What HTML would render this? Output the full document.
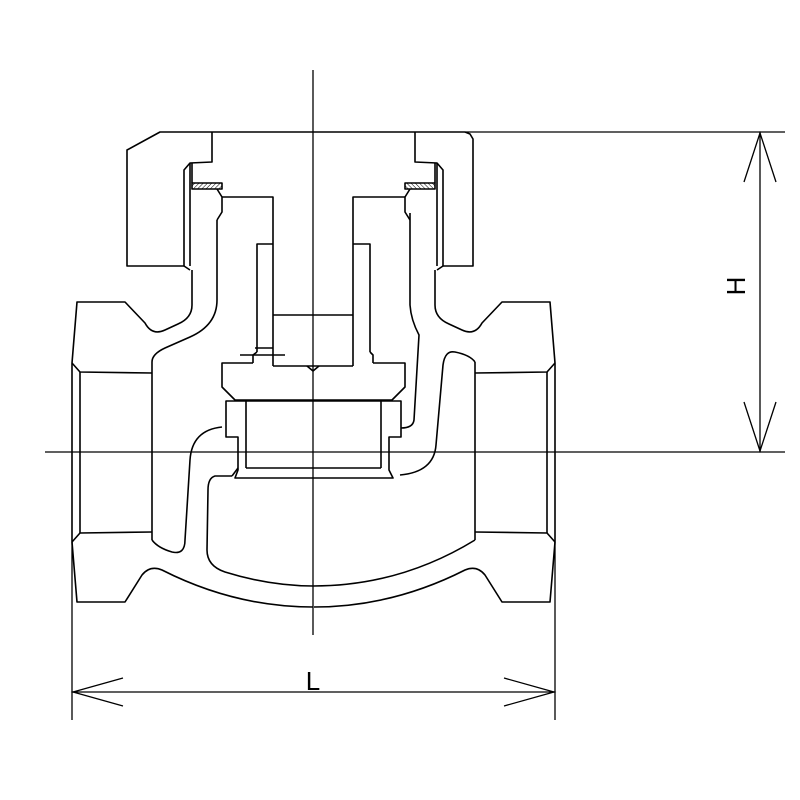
<!DOCTYPE html>
<html><head><meta charset="utf-8"><style>html,body{margin:0;padding:0;background:#fff}svg{display:block}</style></head><body>
<svg width="800" height="800" viewBox="0 0 800 800" xmlns="http://www.w3.org/2000/svg">
<defs>
<pattern id="h" width="3" height="3" patternUnits="userSpaceOnUse" patternTransform="rotate(45)"><line x1="0" y1="0" x2="0" y2="3" stroke="#000" stroke-width="1"/></pattern>
<g id="half" fill="none" stroke="#000" stroke-width="1.6" stroke-linejoin="round">
  <path d="M184,266 L184,170 L190,163 L212,162 L212,132"/>
  <line x1="190" y1="163" x2="190" y2="266"/>
  <path d="M184,266 L190,270"/>
  <rect x="192" y="183" width="30" height="6" fill="url(#h)"/>
  <path d="M192,183 L192,163"/>
  <path d="M192,270 L192,305 Q192,318 178,324 L165,330 Q152,336 145,323 L125,302 L77,302 L72,363 L72,542 L77,602 L125,602 L142,575 Q150,565 162,570 Q235,607 313,607"/>
  <path d="M217,189 L222,197 L222,212 L217,220"/>
  <path d="M72,363 L80,372 L152,373"/>
  <path d="M152,532 L80,533 L72,542"/>
  <line x1="152" y1="362" x2="152" y2="540"/>
  <line x1="80" y1="372" x2="80" y2="533"/>
</g>
</defs>
<use href="#half"/>
<use href="#half" transform="translate(627,0) scale(-1,1)"/>
<g fill="none" stroke="#000" stroke-width="1.6" stroke-linejoin="round">
  <path d="M465,132 L160,132 L127,150 L127,266 L184,266"/>
  <path d="M465,132 L470,134 L473,139 L473,266 L443,266"/>
  <path d="M217,220 L217,300 Q217,325 190,337 L165,348 Q152,354 152,362"/>
  <path d="M152,540 Q158,548 172,552 Q185,555 185,540 L190,460 Q192,430 222,427"/>
  <path d="M232,476 L215,476 Q208,478 208,490 L207,550 Q207,566 225,572 Q270,586 313,586 Q400,586 475,540"/>
  <path d="M222,197 L273,197 L273,366"/>
  <path d="M405,197 L353,197 L353,366"/>
  <line x1="273" y1="315" x2="353" y2="315"/>
  <path d="M273,366 L353,366"/>
  <path d="M307,366 L313,371 L319,366"/>
  <path d="M257,352 L257,244 L273,244"/>
  <path d="M370,352 L370,244 L353,244"/>
  <path d="M257,352 L253,355 L253,363"/>
  <path d="M370,352 L373,355 L373,363"/>
  <line x1="240" y1="355" x2="285" y2="355"/>
  <line x1="255" y1="348" x2="273" y2="348"/>
  <path d="M253,363 L222,363 L222,387 L235,400 L392,400 L405,387 L405,363 L373,363"/>
  <path d="M226,401 L401,401 L401,437 L389,437 L389,470 L393,478 L235,478 L238,470 L238,437 L226,437 Z"/>
  <line x1="246" y1="401" x2="246" y2="468"/>
  <line x1="381" y1="401" x2="381" y2="468"/>
  <line x1="246" y1="468" x2="381" y2="468"/>
  <path d="M238,468 L232,476"/>
  <path d="M410,213 L410,305 Q411,320 419,335 L414,420 Q413,428 401,428"/>
  <path d="M400,475 Q434,472 436,445 L443,365 Q445,350 455,352 Q470,355 475,362"/>
</g>
<g stroke="#000" stroke-width="1.3" fill="none">
  <line x1="313" y1="70" x2="313" y2="635"/>
  <line x1="45" y1="452" x2="785" y2="452"/>
  <line x1="465" y1="132" x2="785" y2="132"/>
  <line x1="760" y1="132" x2="760" y2="452"/>
  <path d="M744,182 L760,133 L776,182"/>
  <path d="M744,402 L760,451 L776,402"/>
  <line x1="72" y1="542" x2="72" y2="720"/>
  <line x1="555" y1="542" x2="555" y2="720"/>
  <line x1="72" y1="692" x2="555" y2="692"/>
  <path d="M123,678 L73,692 L123,706"/>
  <path d="M504,678 L554,692 L504,706"/>
</g>
<text x="313" y="690" font-family="Liberation Sans, sans-serif" font-size="26" text-anchor="middle">L</text>
<text transform="translate(745,286) rotate(-90)" font-family="Liberation Sans, sans-serif" font-size="26" text-anchor="middle">H</text>
</svg>
</body></html>
